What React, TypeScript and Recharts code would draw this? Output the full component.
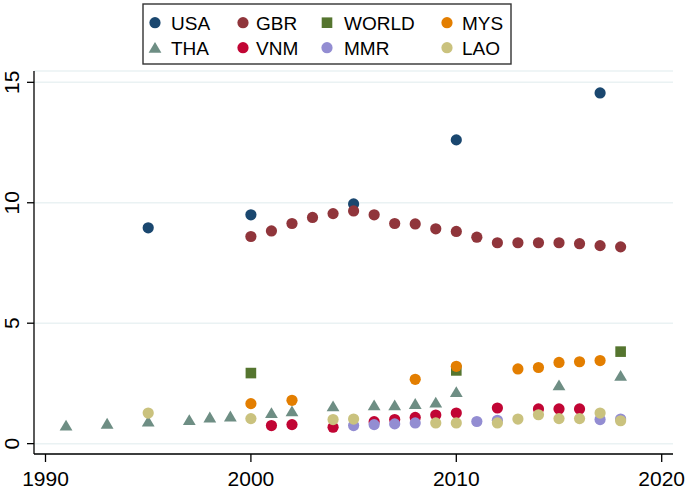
import { ScatterChart, Scatter, XAxis, YAxis, CartesianGrid } from "recharts"

const FONT = "'Liberation Sans', Arial, Helvetica, sans-serif"

// values
const usaYears = [1995, 2000, 2005, 2010, 2017]
const usaValues = [8.96, 9.5, 9.95, 12.61, 14.56]

const gbrYears = [2000, 2001, 2002, 2003, 2004, 2005, 2006, 2007, 2008, 2009, 2010, 2011, 2012, 2013, 2014, 2015, 2016, 2017, 2018]
const gbrValues = [8.6, 8.83, 9.14, 9.39, 9.55, 9.66, 9.5, 9.14, 9.12, 8.92, 8.81, 8.57, 8.34, 8.34, 8.34, 8.34, 8.3, 8.22, 8.17]

const worldYears = [2000, 2010, 2018]
const worldValues = [2.93, 3.04, 3.82]

const mysYears = [2000, 2002, 2008, 2010, 2013, 2014, 2015, 2016, 2017]
const mysValues = [1.66, 1.8, 2.67, 3.21, 3.1, 3.16, 3.37, 3.4, 3.45]

const thaYears = [1991, 1993, 1995, 1997, 1998, 1999, 2001, 2002, 2004, 2006, 2007, 2008, 2009, 2010, 2015, 2018]
const thaValues = [0.75, 0.83, 0.92, 0.98, 1.09, 1.13, 1.27, 1.34, 1.55, 1.59, 1.59, 1.65, 1.71, 2.14, 2.42, 2.82]

const vnmYears = [2001, 2002, 2004, 2006, 2007, 2008, 2009, 2010, 2012, 2014, 2015, 2016]
const vnmValues = [0.75, 0.79, 0.68, 0.91, 1.0, 1.09, 1.19, 1.27, 1.48, 1.44, 1.44, 1.44]

const mmrYears = [2005, 2006, 2007, 2008, 2011, 2012, 2017, 2018]
const mmrValues = [0.75, 0.79, 0.82, 0.86, 0.92, 0.97, 1.0, 1.02]

const laoYears = [1995, 2000, 2004, 2005, 2009, 2010, 2012, 2013, 2014, 2015, 2016, 2017, 2018]
const laoValues = [1.27, 1.04, 1.0, 1.02, 0.86, 0.86, 0.86, 1.02, 1.2, 1.04, 1.04, 1.27, 0.95]

const xTicks = [1990, 2000, 2010, 2020]
const yTicks = [0, 5, 10, 15]

const zip = (years: number[], values: number[]) =>
  years.map((year, i) => ({ year, value: values[i] }))

type Shape = "circle" | "square" | "triangle"

const series: { name: string; color: string; shape: Shape; data: { year: number; value: number }[] }[] = [
  { name: "USA", color: "#1a476f", shape: "circle", data: zip(usaYears, usaValues) },
  { name: "GBR", color: "#90353b", shape: "circle", data: zip(gbrYears, gbrValues) },
  { name: "WORLD", color: "#55752f", shape: "square", data: zip(worldYears, worldValues) },
  { name: "MYS", color: "#e37e00", shape: "circle", data: zip(mysYears, mysValues) },
  { name: "THA", color: "#6e8e84", shape: "triangle", data: zip(thaYears, thaValues) },
  { name: "VNM", color: "#c10534", shape: "circle", data: zip(vnmYears, vnmValues) },
  { name: "MMR", color: "#938dd2", shape: "circle", data: zip(mmrYears, mmrValues) },
  { name: "LAO", color: "#cac27e", shape: "circle", data: zip(laoYears, laoValues) },
]

function Marker({ shape, cx, cy, color }: { shape: Shape; cx: number; cy: number; color: string }) {
  if (shape === "square") {
    return <rect x={cx - 5.3} y={cy - 5.3} width={10.6} height={10.6} fill={color} />
  }
  if (shape === "triangle") {
    return (
      <polygon
        points={`${cx},${cy - 5.8} ${cx - 6.4},${cy + 5} ${cx + 6.4},${cy + 5}`}
        fill={color}
      />
    )
  }
  return <circle cx={cx} cy={cy} r={5.6} fill={color} />
}

const XTick = (props: any) => (
  <text
    x={props.payload.coordinate}
    y={486}
    textAnchor="middle"
    fontSize={21}
    fontFamily={FONT}
    fill="#000"
  >
    {props.payload.value}
  </text>
)

const YTick = (props: any) => {
  const y = props.payload.coordinate
  return (
    <text
      x={19}
      y={y}
      transform={`rotate(-90, 19, ${y})`}
      textAnchor="middle"
      fontSize={21}
      fontFamily={FONT}
      fill="#000"
    >
      {props.payload.value}
    </text>
  )
}

// legend: 4 columns x 2 rows
const legendMarkerX = [155, 243, 327, 447]
const legendTextX = [171, 256, 344, 462]
const legendRowY = [22.7, 47.7]

function ChartLegend() {
  return (
    <svg
      width={685}
      height={70}
      style={{ position: "absolute", left: 0, top: 0, pointerEvents: "none" }}
    >
      <rect x={143} y={4} width={368} height={60} fill="#fff" stroke="#333" strokeWidth={1.4} />
      {series.map((s, i) => {
        const col = i % 4
        const row = Math.floor(i / 4)
        const cy = legendRowY[row]
        return (
          <g key={s.name}>
            <Marker shape={s.shape} cx={legendMarkerX[col]} cy={cy} color={s.color} />
            <text x={legendTextX[col]} y={cy + 7} fontSize={19} fontFamily={FONT} fill="#000">
              {s.name}
            </text>
          </g>
        )
      })}
    </svg>
  )
}

export default function App() {
  return (
    <div style={{ position: "absolute", left: 0, top: 0, width: 685, height: 489, background: "#fff" }}>
      <ScatterChart width={685} height={489} margin={{ top: 71, right: 12, bottom: 0, left: 0 }}>
        <CartesianGrid vertical={false} stroke="#eaf2f3" strokeWidth={1.5} />
        <XAxis
          type="number"
          dataKey="year"
          domain={[1989.44, 2020.55]}
          ticks={xTicks}
          height={35}
          tickSize={8}
          axisLine={{ stroke: "#000", strokeWidth: 1.3 }}
          tickLine={{ stroke: "#000", strokeWidth: 1.3 }}
          tick={<XTick />}
          interval={0}
        />
        <YAxis
          type="number"
          dataKey="value"
          domain={[-0.43, 15.47]}
          ticks={yTicks}
          width={34}
          tickSize={7}
          axisLine={{ stroke: "#000", strokeWidth: 1.3 }}
          tickLine={{ stroke: "#000", strokeWidth: 1.3 }}
          tick={<YTick />}
          interval={0}
        />
        {series.map((s) => (
          <Scatter
            key={s.name}
            name={s.name}
            data={s.data}
            isAnimationActive={false}
            shape={(p: any) => <Marker shape={s.shape} cx={p.cx} cy={p.cy} color={s.color} />}
          />
        ))}
      </ScatterChart>
      <ChartLegend />
    </div>
  )
}
